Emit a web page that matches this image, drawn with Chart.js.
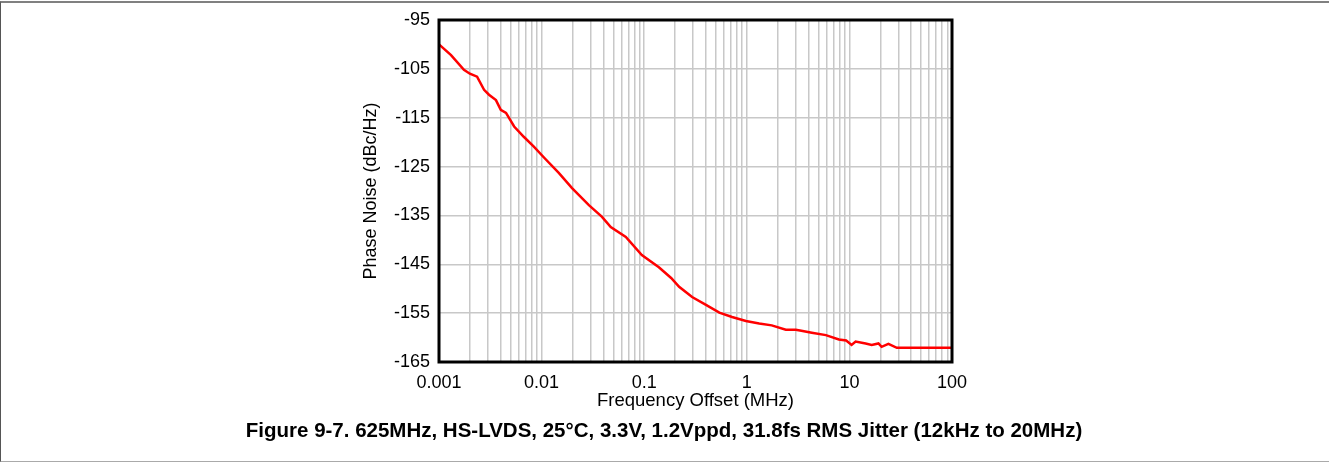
<!DOCTYPE html>
<html>
<head>
<meta charset="utf-8">
<script src="https://cdn.jsdelivr.net/npm/chart.js@4/dist/chart.umd.min.js"></script>
<style>
  html, body { margin: 0; padding: 0; background: #fff; }
  #frame {
    position: relative; width: 1329px; box-sizing: border-box;
    border-top: 2px solid #808080; border-left: 1px solid #555; border-bottom: 1px solid #aaa;
    margin-top: 1px; height: 461px;
  }
  #chart { position: absolute; left: -1px; top: -3px; }
</style>
</head>
<body>
<div id="frame"><canvas id="chart" width="1329" height="462"></canvas></div>
<script>
// phase noise curve, offset in MHz vs dBc/Hz
var freqMHz = [0.001, 0.00131, 0.00175, 0.0020, 0.00235, 0.00275, 0.00307, 0.00359, 0.0040, 0.0045,
  0.0054, 0.0067, 0.0084, 0.0106, 0.0147, 0.0198, 0.0289, 0.0388, 0.0472, 0.0662,
  0.0948, 0.139, 0.183, 0.219, 0.293, 0.40, 0.54, 0.718, 0.98, 1.32,
  1.75, 2.4, 3.0, 3.4, 4.3, 5.9, 6.3, 7.9, 9.3, 10.5,
  11.5, 14.4, 16.5, 19.2, 20.6, 24, 29, 100];
var phaseNoise = [-100.0, -102.2, -105.2, -106.0, -106.6, -109.3, -110.3, -111.4, -113.4, -114.0,
  -116.8, -118.9, -120.9, -123.2, -126.3, -129.4, -132.9, -135.3, -137.4, -139.4,
  -143.1, -145.6, -147.8, -149.6, -151.7, -153.3, -154.9, -155.8, -156.6, -157.1,
  -157.5, -158.4, -158.4, -158.6, -159.0, -159.5, -159.7, -160.4, -160.6, -161.5,
  -160.8, -161.2, -161.5, -161.2, -161.9, -161.3, -162.1, -162.1];

var xTickLabels = ['0.001', '0.01', '0.1', '1', '10', '100'];
var yMin = -165, yMax = -95, yStep = 10;
var caption = 'Figure 9-7. 625MHz, HS-LVDS, 25\u00b0C, 3.3V, 1.2Vppd, 31.8fs RMS Jitter (12kHz to 20MHz)';

var FONT = '"Liberation Sans", Arial, sans-serif';

var points = freqMHz.map(function (f, i) { return { x: f, y: phaseNoise[i] }; });

// black frame round the plot area, and the figure caption under everything
var boxBorder = {
  id: 'boxBorder',
  afterDraw: function (chart) {
    var a = chart.chartArea, c = chart.ctx;
    c.save();
    c.strokeStyle = '#000';
    c.lineWidth = 3;
    c.strokeRect(a.left, a.top, a.right - a.left, a.bottom - a.top);
    c.fillStyle = '#000';
    c.font = 'bold 20.5px ' + FONT;
    c.textAlign = 'center';
    c.textBaseline = 'middle';
    c.fillText(caption, 664, 431);
    c.restore();
  }
};

new Chart(document.getElementById('chart'), {
  type: 'line',
  data: {
    datasets: [{
      data: points,
      borderColor: '#ff0000',
      borderWidth: 2.5,
      pointRadius: 0,
      tension: 0,
      fill: false
    }]
  },
  options: {
    responsive: false,
    animation: false,
    layout: { padding: { left: 355, right: 377, top: 20, bottom: 47 } },
    plugins: {
      legend: { display: false },
      tooltip: { enabled: false },
      title: { display: false }
    },
    scales: {
      x: {
        type: 'logarithmic',
        min: 0.001,
        max: 100,
        afterFit: function (s) { s.height = 53; },
        afterBuildTicks: function (s) {
          var t = [];
          for (var e = -3; e <= 2; e++) {
            for (var m = 1; m <= 9; m++) {
              var v = m * Math.pow(10, e);
              if (v > 100) break;
              t.push({ value: v });
            }
          }
          s.ticks = t;
        },
        grid: { color: '#c8c8c8', lineWidth: 1.5, drawTicks: false },
        border: { display: false },
        ticks: {
          autoSkip: false,
          maxRotation: 0,
          padding: 10,
          color: '#000',
          font: { family: FONT, size: 18 },
          callback: function (v) {
            var e = Math.log10(v);
            if (Math.abs(e - Math.round(e)) > 1e-6) return '';
            return xTickLabels[Math.round(e) + 3];
          }
        },
        title: {
          display: true,
          text: 'Frequency Offset (MHz)',
          color: '#000',
          font: { family: FONT, size: 18.5 },
          padding: { top: 0, bottom: 3 }
        }
      },
      y: {
        min: yMin,
        max: yMax,
        afterFit: function (s) { s.width = 84; },
        grid: { color: '#c8c8c8', lineWidth: 1.5, drawTicks: false },
        border: { display: false },
        ticks: {
          stepSize: yStep,
          padding: 9,
          color: '#000',
          font: { family: FONT, size: 18 }
        },
        title: {
          display: true,
          text: 'Phase Noise (dBc/Hz)',
          color: '#000',
          font: { family: FONT, size: 18 },
          padding: { top: 5, bottom: 0 }
        }
      }
    }
  },
  plugins: [boxBorder]
});
</script>
</body>
</html>
